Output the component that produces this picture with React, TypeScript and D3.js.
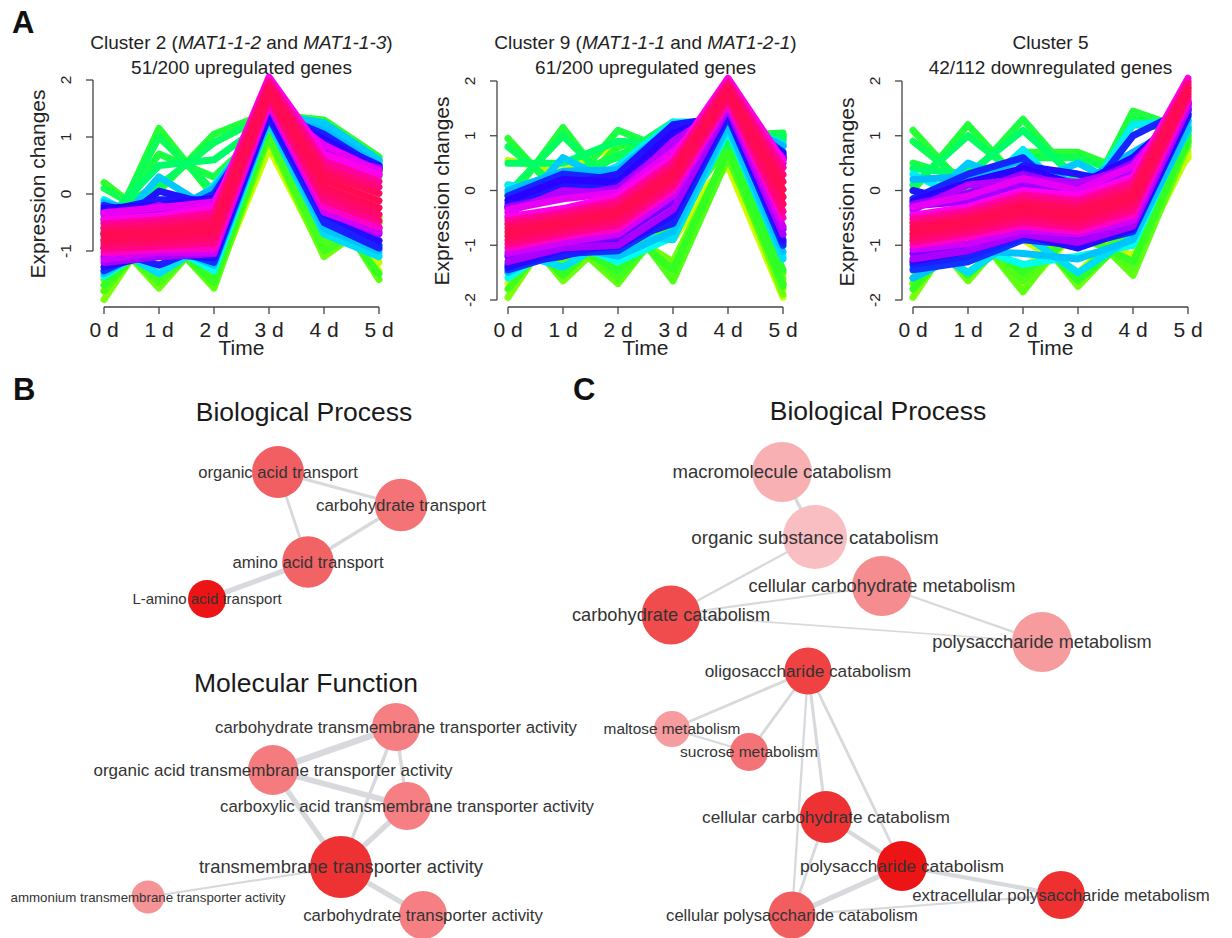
import React from 'react';
import * as d3 from 'd3';

// ---------------- Panel A data ----------------
const timeLabels = ['0 d', '1 d', '2 d', '3 d', '4 d', '5 d'];
const timePoints = [0, 1, 2, 3, 4, 5];

// membership values of the plotted genes (low = yellow/green, high = red)
const cluster2Membership = [0.12, 0.13, 0.14, 0.22, 0.23, 0.24, 0.25, 0.26, 0.27, 0.28, 0.29, 0.3, 0.31, 0.32, 0.33, 0.34, 0.35, 0.44, 0.46, 0.48, 0.5, 0.51, 0.52, 0.6, 0.62, 0.63, 0.65, 0.66, 0.68, 0.75, 0.77, 0.79, 0.8, 0.82, 0.84, 0.86, 0.88, 0.9, 0.92, 0.93, 0.94, 0.96, 0.97, 0.99, 0.64];
const cluster2Profiles = [
  [-1.7, -0.6, -1.55, 0.8, -1.05, -0.45],
  [-0.7, -1.5, -0.6, 0.85, -0.1, -1.35],
  [-1.3, -0.75, -1.45, 0.82, -0.4, -1.2],
  [-1.85, -0.4, -1.6, 1.0, -0.9, -0.5],
  [-0.6, -1.65, -0.55, 0.95, -1.1, -0.4],
  [-1.5, -0.6, -1.65, 1.1, 0.0, -1.5],
  [-1.7, -0.55, -1.5, 1.05, -0.85, -0.6],
  [-0.7, -1.55, -0.65, 1.0, -1.0, -0.5],
  [-1.6, -0.7, -1.55, 1.15, -0.15, -1.4],
  [0.2, -0.55, 0.05, 1.4, 1.3, 0.65],
  [-0.93, 1.15, -0.05, 1.35, 1.25, 0.5],
  [-0.4, 0.05, 1.05, 1.43, 0.6, 0.6],
  [-0.6, 0.7, 0.3, 1.2, 1.1, 0.3],
  [0.1, -0.45, 0.1, 1.38, 1.22, 0.58],
  [-0.8, 1.0, 0.05, 1.3, 1.18, 0.45],
  [-0.35, 0.15, 0.9, 1.4, 0.5, 0.55],
  [-0.5, 0.5, 0.6, 1.3, 1.15, 0.4],
  [-1.45, -0.8, -1.35, 1.3, -0.55, -1.05],
  [-0.1, -0.6, 0.15, 1.35, 1.2, 0.55],
  [-0.85, -1.4, -0.8, 1.25, -0.7, -1.1],
  [-0.8, 0.3, -0.3, 1.4, 1.25, 0.6],
  [-1.4, -0.85, -1.25, 1.32, -0.6, -1.0],
  [-0.15, -0.4, 0.1, 1.37, 1.12, 0.5],
  [-1.35, -0.9, -1.2, 1.4, -0.4, -0.9],
  [-0.2, -0.45, 0.0, 1.45, 1.05, 0.45],
  [-0.95, -1.25, -0.85, 1.35, -0.5, -0.95],
  [-0.7, 0.05, -0.2, 1.4, 0.95, 0.5],
  [-1.28, -1.05, -1.12, 1.42, -0.35, -0.82],
  [-0.25, -0.2, -0.08, 1.47, 0.95, 0.42],
  [-1.1, -1.05, -1.0, 1.6, -0.25, -0.6],
  [-0.35, -0.3, -0.2, 1.6, 0.8, 0.35],
  [-1.2, -1.1, -1.05, 1.55, -0.3, -0.7],
  [-0.45, -0.2, -0.4, 1.55, 0.7, 0.45],
  [-1.15, -1.02, -1.03, 1.57, -0.32, -0.66],
  [-0.33, -0.24, -0.14, 1.58, 0.86, 0.4],
  [-0.45, -0.38, -0.25, 2.05, 0.7, 0.33],
  [-1.03, -0.98, -0.95, 1.62, -0.22, -0.58],
  [-0.52, -0.45, -0.33, 1.99, 0.58, 0.22],
  [-0.96, -0.91, -0.86, 1.67, -0.11, -0.47],
  [-0.59, -0.52, -0.41, 1.94, 0.47, 0.12],
  [-0.89, -0.84, -0.77, 1.72, 0.0, -0.36],
  [-0.66, -0.6, -0.5, 1.88, 0.36, 0.01],
  [-0.82, -0.76, -0.68, 1.78, 0.12, -0.24],
  [-0.74, -0.68, -0.59, 1.83, 0.24, -0.12],
  [-0.3, -0.1, -0.1, 1.45, 1.0, 0.47],
];

const cluster9Membership = [0.12, 0.13, 0.14, 0.22, 0.23, 0.24, 0.25, 0.26, 0.27, 0.28, 0.29, 0.3, 0.31, 0.32, 0.33, 0.34, 0.35, 0.44, 0.46, 0.48, 0.5, 0.51, 0.52, 0.6, 0.62, 0.63, 0.65, 0.66, 0.68, 0.75, 0.77, 0.79, 0.8, 0.82, 0.84, 0.86, 0.88, 0.9, 0.92, 0.93, 0.94, 0.96, 0.97, 0.99, 0.64, 0.78];
const cluster9Profiles = [
  [-1.7, -0.7, -1.5, -0.5, 0.45, -1.95],
  [-0.8, -1.5, -0.9, -0.9, 0.5, -1.8],
  [0.55, 0.35, 0.85, 0.95, 0.55, 0.95],
  [-1.95, -0.45, -1.55, -0.45, 0.8, -1.6],
  [-0.45, -1.65, -0.7, -1.3, 0.7, -1.9],
  [-1.5, -0.8, -1.7, -0.4, 0.9, -1.5],
  [-1.2, -1.3, -0.3, -1.65, 0.6, -1.7],
  [-1.8, -0.6, -1.6, -0.55, 0.85, -1.7],
  [-0.6, -1.55, -0.6, -1.45, 0.75, -1.75],
  [-1.4, -0.9, -1.45, -0.65, 0.95, -1.45],
  [0.95, -0.15, 0.8, 1.0, 1.0, 1.0],
  [-0.2, 1.15, -0.15, 0.9, 0.9, 0.95],
  [0.1, -0.05, 1.1, 0.7, 1.0, 1.05],
  [-0.1, 0.3, 0.6, 1.25, 0.8, 0.9],
  [0.8, 0.0, 0.65, 0.95, 1.05, 0.98],
  [-0.05, 1.0, 0.0, 1.1, 0.95, 1.02],
  [0.5, 0.5, 0.9, 0.85, 1.1, 0.92],
  [-1.6, -0.9, -1.3, -0.85, 1.1, -1.2],
  [0.1, 0.0, 0.45, 1.25, 1.25, 0.85],
  [-1.1, -1.4, -0.8, -0.9, 1.15, -1.25],
  [-0.5, 0.6, 0.1, 1.2, 1.2, 0.8],
  [-1.5, -1.0, -1.2, -0.75, 1.2, -1.12],
  [0.0, 0.35, 0.38, 1.18, 1.3, 0.82],
  [-1.45, -1.15, -1.1, -0.5, 1.4, -1.0],
  [-0.1, 0.3, 0.2, 1.15, 1.4, 0.7],
  [-1.35, -1.2, -0.95, -0.6, 1.35, -0.95],
  [-0.3, 0.1, 0.3, 1.2, 1.35, 0.6],
  [-1.4, -1.08, -1.02, -0.45, 1.42, -0.9],
  [-0.18, 0.2, 0.15, 1.05, 1.38, 0.66],
  [-1.2, -1.0, -0.85, -0.2, 1.6, -0.7],
  [-0.3, -0.1, 0.0, 0.8, 1.6, 0.6],
  [-1.3, -1.05, -1.0, -0.35, 1.5, -0.8],
  [-0.4, 0.0, -0.05, 0.9, 1.55, 0.5],
  [-1.15, -0.95, -0.8, -0.1, 1.57, -0.66],
  [-0.35, -0.15, -0.04, 0.72, 1.58, 0.57],
  [-0.48, -0.33, -0.1, 0.6, 2.05, 0.55],
  [-1.05, -0.85, -0.7, 0.0, 1.62, -0.5],
  [-0.55, -0.4, -0.18, 0.52, 1.99, 0.42],
  [-0.98, -0.79, -0.62, 0.08, 1.67, -0.38],
  [-0.62, -0.46, -0.26, 0.44, 1.94, 0.29],
  [-0.91, -0.72, -0.54, 0.16, 1.72, -0.25],
  [-0.69, -0.53, -0.34, 0.36, 1.88, 0.16],
  [-0.84, -0.66, -0.46, 0.24, 1.78, -0.12],
  [-0.76, -0.59, -0.4, 0.3, 1.83, 0.02],
  [-0.25, 0.05, 0.08, 0.9, 1.4, 0.62],
  [-0.32, -0.12, 0.05, 0.85, 1.55, 0.58],
];

const cluster5Membership = [0.12, 0.13, 0.14, 0.22, 0.23, 0.24, 0.25, 0.26, 0.27, 0.28, 0.29, 0.3, 0.31, 0.32, 0.33, 0.34, 0.35, 0.44, 0.46, 0.48, 0.5, 0.51, 0.52, 0.6, 0.62, 0.63, 0.65, 0.66, 0.68, 0.75, 0.77, 0.79, 0.8, 0.82, 0.84, 0.86, 0.88, 0.9, 0.92, 0.93, 0.94, 0.96, 0.97, 0.99, 0.78];
const cluster5Profiles = [
  [-1.7, -0.8, -0.9, -1.5, -0.6, 0.6],
  [-0.9, -0.5, -1.8, -0.7, -1.2, 0.7],
  [-1.3, -0.9, -1.4, -0.8, -1.35, 0.65],
  [-1.95, -0.45, -1.55, -0.5, -1.5, 0.9],
  [-0.45, -1.65, -0.5, -1.75, -0.7, 0.8],
  [-1.6, -0.6, -1.85, -0.55, -1.55, 0.85],
  [-1.7, -0.75, -1.65, -0.7, -1.4, 0.95],
  [-0.8, -1.5, -0.75, -1.55, -0.6, 1.0],
  [-1.8, -0.7, -1.5, -0.8, -1.3, 0.92],
  [-0.6, -1.55, -0.65, -1.65, -0.8, 0.88],
  [1.1, 0.0, 0.7, 0.7, 0.3, 1.2],
  [0.0, 1.2, 0.1, -0.5, 1.45, 1.1],
  [0.5, 0.2, 1.3, 0.15, 0.5, 1.0],
  [-0.2, 0.4, 0.3, -0.4, 1.3, 1.15],
  [0.9, 0.1, 0.6, 0.6, 0.25, 1.05],
  [0.1, 1.0, 0.2, -0.3, 1.2, 1.12],
  [0.4, 0.3, 1.1, 0.2, 0.55, 1.08],
  [-1.4, -1.0, -1.35, -1.2, -1.0, 1.2],
  [0.3, -0.2, 0.75, -0.3, 1.2, 1.3],
  [-0.9, -1.5, -0.8, -1.5, -0.85, 1.1],
  [-0.4, 0.5, 0.1, 0.5, 0.0, 1.25],
  [-1.6, -1.1, -1.15, -1.25, -0.9, 1.15],
  [0.2, 0.25, 0.55, 0.1, 0.7, 1.28],
  [-1.45, -1.3, -0.9, -1.0, -0.75, 1.35],
  [-0.15, 0.3, 0.6, -0.3, 1.0, 1.5],
  [-1.35, -1.2, -0.85, -0.95, -0.68, 1.4],
  [0.0, -0.25, 0.45, 0.3, 0.1, 1.45],
  [-1.3, -1.1, -0.8, -1.05, -0.7, 1.38],
  [-0.2, 0.15, 0.4, 0.1, 0.6, 1.48],
  [-1.15, -1.05, -0.75, -0.85, -0.6, 1.55],
  [-0.25, -0.05, 0.3, 0.05, 0.5, 1.6],
  [-1.25, -1.1, -0.8, -0.95, -0.65, 1.5],
  [-0.35, 0.1, 0.2, 0.15, 0.4, 1.55],
  [-1.08, -0.97, -0.72, -0.8, -0.55, 1.6],
  [-0.3, -0.1, 0.22, 0.0, 0.45, 1.62],
  [-0.45, -0.3, 0.0, -0.1, 0.25, 2.05],
  [-1.0, -0.85, -0.65, -0.75, -0.45, 1.65],
  [-0.52, -0.37, -0.08, -0.18, 0.16, 1.99],
  [-0.93, -0.78, -0.57, -0.67, -0.36, 1.7],
  [-0.59, -0.44, -0.16, -0.26, 0.07, 1.94],
  [-0.86, -0.71, -0.49, -0.59, -0.27, 1.75],
  [-0.66, -0.51, -0.24, -0.34, -0.02, 1.89],
  [-0.79, -0.64, -0.41, -0.51, -0.18, 1.8],
  [-0.72, -0.57, -0.33, -0.42, -0.1, 1.85],
  [-0.28, -0.2, 0.12, -0.05, 0.35, 1.58],
];

const panelSubtitles = ['51/200 upregulated genes', '61/200 upregulated genes', '42/112 downregulated genes'];

// ---------------- Network data ----------------
const bBpNames = ['organic acid transport', 'carbohydrate transport', 'amino acid transport', 'L-amino acid transport'];
const bBpSize = [3.44, 3.5, 3.4, 1.9];
const bBpSig = [0.62, 0.52, 0.6, 1.0];
const bBpEdges: [number, number, number][] = [[0, 1, 0.35], [0, 2, 0.3], [2, 1, 0.4], [2, 3, 0.7]];

const bMfNames = [
  'carbohydrate transmembrane transporter activity',
  'organic acid transmembrane transporter activity',
  'carboxylic acid transmembrane transporter activity',
  'transmembrane transporter activity',
  'ammonium transmembrane transporter activity',
  'carbohydrate transporter activity',
];
const bMfSize = [3.0, 3.22, 3.0, 4.56, 1.33, 3.0];
const bMfSig = [0.45, 0.47, 0.45, 0.85, 0.32, 0.45];
const bMfEdges: [number, number, number][] = [
  [1, 0, 0.9], [1, 2, 0.75], [1, 3, 0.7], [0, 2, 0.4], [0, 3, 0.4], [2, 3, 0.7], [3, 4, 0.2], [3, 5, 0.7],
];

const cBpNames = [
  'macromolecule catabolism', 'organic substance catabolism', 'cellular carbohydrate metabolism',
  'carbohydrate catabolism', 'polysaccharide metabolism', 'oligosaccharide catabolism',
  'maltose metabolism', 'sucrose metabolism', 'cellular carbohydrate catabolism',
  'polysaccharide catabolism', 'extracellular polysaccharide metabolism', 'cellular polysaccharide catabolism',
];
const cBpSize = [4.33, 4.78, 4.33, 4.2, 4.33, 2.9, 1.67, 1.9, 3.45, 3.22, 3.0, 2.9];
const cBpSig = [0.14, 0.05, 0.36, 0.72, 0.27, 0.77, 0.27, 0.52, 0.85, 1.0, 0.86, 0.63];
const cBpEdges: [number, number, number][] = [
  [0, 1, 0.4], [1, 3, 0.2], [3, 2, 0.2], [2, 4, 0.22], [3, 4, 0.1],
  [5, 6, 0.3], [5, 7, 0.3], [6, 7, 0.2], [5, 8, 0.35], [5, 9, 0.3], [5, 11, 0.22],
  [8, 9, 0.55], [8, 11, 0.3], [9, 11, 0.7], [9, 10, 0.55], [11, 10, 0.2],
];

// ---------------- Layout (positions & label sizes) ----------------
const bBpLayout = [[278, 472, 16.6], [401, 505, 16.9], [308, 562, 16.7], [207, 599, 15]];
const bMfLayout = [[396, 727, 16.8], [273, 770, 17], [407, 806, 16.8], [341, 867, 18.4], [148, 897, 13.3], [423, 915, 16.8]];
const cBpLayout = [
  [782, 472, 18.5], [815, 537, 18.8], [882, 586, 18.2], [671, 615, 18.2], [1042, 642, 18.2], [808, 671, 17.2],
  [672, 729, 15.4], [749, 752, 15.5], [826, 817, 17.3], [902, 866, 17.4], [1061, 895, 16.8], [792, 915, 16.6],
];

const FONT = "'Liberation Sans', Arial, Helvetica, sans-serif";

const panelLayouts = [
  { x0: 104, yDomain: [-1, 2], yRange: [251, 80], ticks: [-1, 0, 1, 2], ylabY: 184 },
  { x0: 508, yDomain: [-2, 2], yRange: [300, 81], ticks: [-2, -1, 0, 1, 2], ylabY: 191 },
  { x0: 913, yDomain: [-2, 2], yRange: [300, 81], ticks: [-2, -1, 0, 1, 2], ylabY: 192 },
];

const memColor = d3
  .scaleLinear<string>()
  .domain([0.1, 0.2, 0.27, 0.35, 0.44, 0.52, 0.6, 0.68, 0.75, 0.8, 0.86, 0.9, 0.95, 1.0])
  .range(['#ddff00', '#99ff00', '#33ff22', '#00ff66', '#00ffee', '#00bbff', '#1133ff', '#2a00ff', '#7a00ff', '#b800ff', '#ff00ee', '#ff00a0', '#ff0a60', '#ff0a50'])
  .interpolate(d3.interpolateRgb)
  .clamp(true);

function ClusterPanel({ idx, membership, profiles, title }: { idx: number; membership: number[]; profiles: number[][]; title: React.ReactNode }) {
  const L = panelLayouts[idx];
  const x = d3.scaleLinear().domain([0, 5]).range([L.x0, L.x0 + 275]);
  const y = d3.scaleLinear().domain(L.yDomain).range(L.yRange);
  const line = d3
    .line<number>()
    .x((_, i) => x(timePoints[i]))
    .y((v) => y(v));
  const order = d3.range(profiles.length).sort((a, b) => membership[a] - membership[b]);
  const axisX = L.x0 - 11;
  const axisY = 307;
  const cx = L.x0 + 137.5;
  const tMin = d3.min(L.ticks) as number;
  const tMax = d3.max(L.ticks) as number;
  return (
    <g>
      <g>
        {order.map((i) => (
          <path key={i} d={line(profiles[i]) || ''} fill="none" stroke={memColor(membership[i])} strokeWidth={7} strokeLinejoin="round" strokeLinecap="round" />
        ))}
      </g>
      <line x1={axisX} x2={axisX} y1={y(tMin)} y2={y(tMax)} stroke="#444" strokeWidth={1.3} />
      {L.ticks.map((t) => (
        <g key={t}>
          <line x1={axisX - 7} x2={axisX} y1={y(t)} y2={y(t)} stroke="#444" strokeWidth={1.3} />
          <text transform={`translate(${axisX - 22},${y(t)}) rotate(-90)`} textAnchor="middle" fontSize={15.5} fill="#222">
            {t < 0 ? `-${Math.abs(t)}` : t}
          </text>
        </g>
      ))}
      <text transform={`translate(${L.x0 - 59},${L.ylabY}) rotate(-90)`} textAnchor="middle" fontSize={21} fill="#222">
        Expression changes
      </text>
      <line x1={x(0)} x2={x(5)} y1={axisY} y2={axisY} stroke="#444" strokeWidth={1.3} />
      {timePoints.map((t, i) => (
        <g key={t}>
          <line x1={x(t)} x2={x(t)} y1={axisY} y2={axisY + 7} stroke="#444" strokeWidth={1.3} />
          <text x={x(t)} y={337} textAnchor="middle" fontSize={21} fill="#222">
            {timeLabels[i]}
          </text>
        </g>
      ))}
      <text x={cx} y={355} textAnchor="middle" fontSize={21} fill="#222">
        Time
      </text>
      <text x={cx} y={49} textAnchor="middle" fontSize={19} fill="#222">
        {title}
      </text>
      <text x={cx} y={74} textAnchor="middle" fontSize={19} fill="#222">
        {panelSubtitles[idx]}
      </text>
    </g>
  );
}

const rScale = d3.scaleLinear().domain([1, 5]).range([15, 33]);
const sigColor = d3.scaleLinear<string>().domain([0, 0.5, 1]).range(['#f9c6c9', '#f4777a', '#ec1414']).interpolate(d3.interpolateRgb);
const edgeW = d3.scaleLinear().domain([0, 1]).range([1, 7]);

function Network({ names, size, sig, edges, layout }: { names: string[]; size: number[]; sig: number[]; edges: [number, number, number][]; layout: number[][] }) {
  return (
    <g>
      {edges.map(([a, b, w], i) => (
        <line key={i} x1={layout[a][0]} y1={layout[a][1]} x2={layout[b][0]} y2={layout[b][1]} stroke="#d7d9dd" strokeWidth={edgeW(w)} strokeLinecap="round" />
      ))}
      {names.map((n, i) => (
        <circle key={n} cx={layout[i][0]} cy={layout[i][1]} r={rScale(size[i])} fill={sigColor(sig[i])} />
      ))}
      {names.map((n, i) => (
        <text key={n + 't'} x={layout[i][0]} y={layout[i][1]} dy="0.35em" textAnchor="middle" fontSize={layout[i][2]} fill="#333">
          {n}
        </text>
      ))}
    </g>
  );
}

export default function App() {
  const it = (s: string) => <tspan fontStyle="italic">{s}</tspan>;
  return (
    <svg width={1232} height={938} viewBox="0 0 1232 938" style={{ position: 'absolute', left: 0, top: 0, background: '#fff' }} fontFamily={FONT}>
      <rect x={0} y={0} width={1232} height={938} fill="#fff" />
      <ClusterPanel idx={0} membership={cluster2Membership} profiles={cluster2Profiles} title={<>Cluster 2 ({it('MAT1-1-2')} and {it('MAT1-1-3')})</>} />
      <ClusterPanel idx={1} membership={cluster9Membership} profiles={cluster9Profiles} title={<>Cluster 9 ({it('MAT1-1-1')} and {it('MAT1-2-1')})</>} />
      <ClusterPanel idx={2} membership={cluster5Membership} profiles={cluster5Profiles} title={<>Cluster 5</>} />

      <text x={12} y={33} fontSize={31} fontWeight="bold" fill="#111">A</text>
      <text x={13} y={400} fontSize={31} fontWeight="bold" fill="#111">B</text>
      <text x={573} y={400} fontSize={31} fontWeight="bold" fill="#111">C</text>

      <text x={304} y={421} textAnchor="middle" fontSize={26.5} fill="#1a1a1a">Biological Process</text>
      <text x={306} y={692} textAnchor="middle" fontSize={26.5} fill="#1a1a1a">Molecular Function</text>
      <text x={878} y={420} textAnchor="middle" fontSize={26.5} fill="#1a1a1a">Biological Process</text>

      <Network names={bBpNames} size={bBpSize} sig={bBpSig} edges={bBpEdges} layout={bBpLayout} />
      <Network names={bMfNames} size={bMfSize} sig={bMfSig} edges={bMfEdges} layout={bMfLayout} />
      <Network names={cBpNames} size={cBpSize} sig={cBpSig} edges={cBpEdges} layout={cBpLayout} />
    </svg>
  );
}
